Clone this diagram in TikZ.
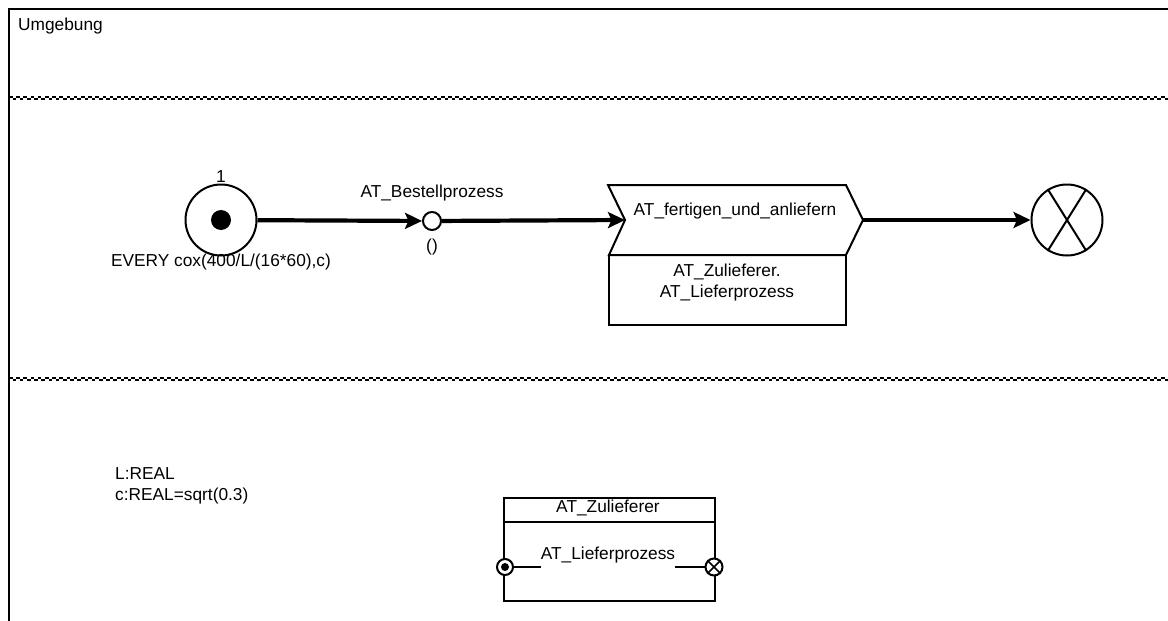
\documentclass[tikz,border=0pt]{standalone}
\usepackage{fontspec}
\setmainfont{Liberation Sans}
\usetikzlibrary{arrows.meta}
\begin{document}
\begin{tikzpicture}[x=1pt,y=-1pt,
  txt/.style={font=\fontsize{17.3}{21}\selectfont, inner sep=0pt},
  conn/.style={line width=4.2pt, -{Stealth[length=17pt,width=16pt,inset=3.5pt]}},
  outline/.style={line width=2pt},
  thin line/.style={line width=1.6pt},
  sepline/.style={line width=2pt, dash pattern=on 3.6pt off 3.6pt},
  ring/.style={circle, draw, outline, fill=white, inner sep=0pt}]
\useasboundingbox (0,0) rectangle (1168,621);

% outer frame
\draw[line width=2.2pt] (9,621) -- (9,9.3) -- (1168,9.3);
\node[txt, anchor=west] (env) at (18,26) {Umgebung};

% lane separators (checkered dotted lines)
\foreach \yy in {97.5,379} {
  \draw[sepline] (9,\yy-1) -- (1168,\yy-1);
  \draw[sepline, dash phase=3.6pt] (9,\yy+1) -- (1168,\yy+1);
}

% start event
\node[ring, minimum size=71pt] (start) at (221,220) {};
\node[circle, fill, inner sep=0pt, minimum size=20pt] (startdot) at (start.center) {};
\node[txt] (count) at (221,177) {1};
\node[txt] (every) at (221,262) {EVERY cox(400/L/(16*60),c)};

% intermediate place
\node[ring, minimum size=18pt] (place) at (432,221) {};
\node[txt] (bp) at (432,193) {AT\_Bestellprozess};
\node[txt] (args) at (432,247) {()};

% activity
\coordinate (notch) at (625,220);
\coordinate (tip) at (863,220);
\draw[outline, line join=miter] (609,255) -- (notch) -- (608,185) -- (846,185) -- (tip) -- (846,255) -- cycle;
\draw[outline] (609,255) rectangle (846,325);
\node[txt] (act) at (735,211) {AT\_fertigen\_und\_anliefern};
\node[txt, align=center] (call) at (727,283) {AT\_Zulieferer.\\AT\_Lieferprozess};

% end event
\node[ring, minimum size=71pt] (finish) at (1067,220) {};
\draw[outline] (finish.122) -- (finish.-58);
\draw[outline] (finish.58) -- (finish.-122);

% flow
\draw[conn] (start) -- (place);
\draw[conn] (place) -- (notch);
\draw[conn] (tip) -- (finish);

% declarations
\node[txt, anchor=west] (decl1) at (115,474) {L:REAL};
\node[txt, anchor=west] (decl2) at (115,496) {c:REAL=sqrt(0.3)};

% component
\node[draw, outline, minimum width=211.5pt, minimum height=103pt, inner sep=0pt, anchor=north west] (comp) at (502.5,497) {};
\draw[outline] (502.5,522) -- (714,522);
\node[txt] (compname) at (608,508) {AT\_Zulieferer};
\node[txt] (proc) at (608,555) {AT\_Lieferprozess};
\node[ring, minimum size=16pt] (pin) at (505,567) {};
\node[circle, fill, inner sep=0pt, minimum size=8pt] (pindot) at (pin.center) {};
\node[ring, minimum size=17pt] (pout) at (714,567) {};
\draw[thin line] (pout.135) -- (pout.-45);
\draw[thin line] (pout.45) -- (pout.-135);
\draw[thin line] (pin.east) -- (pin.east -| proc.west);
\draw[thin line] (pout.west -| proc.east) -- (pout.west);
\end{tikzpicture}
\end{document}
